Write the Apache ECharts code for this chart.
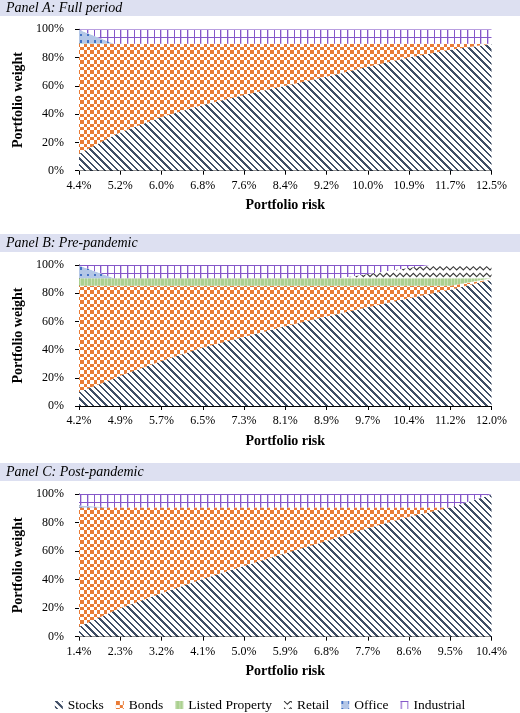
<!DOCTYPE html>
<html><head><meta charset="utf-8">
<script src="https://cdn.jsdelivr.net/npm/echarts@6/dist/echarts.min.js"></script>
<style>html,body{margin:0;padding:0;background:#fff}#c{width:520px;height:713px}</style>
</head><body><div id="c"></div>
<script>
// ---------------- data ----------------
const seriesNames = ['Stocks', 'Bonds', 'Listed Property', 'Retail', 'Office', 'Industrial'];
const panelTitles = ['Panel A: Full period', 'Panel B: Pre-pandemic', 'Panel C: Post-pandemic'];

const riskLabelsA = ['4.4%','5.2%','6.0%','6.8%','7.6%','8.4%','9.2%','10.0%','10.9%','11.7%','12.5%'];
const riskLabelsB = ['4.2%','4.9%','5.7%','6.5%','7.3%','8.1%','8.9%','9.7%','10.4%','11.2%','12.0%'];
const riskLabelsC = ['1.4%','2.3%','3.2%','4.1%','5.0%','5.9%','6.8%','7.7%','8.6%','9.5%','10.4%'];
const weightTicks = [0, 20, 40, 60, 80, 100];

// positions along the frontier (in tick-label steps) and weights (%)
const posA        = [0,    0.85, 1,    2,    3,    4,    5,    6,    7,    8,   9,    10];
const stocksA     = [12,   25,   27,   38,   46.5, 53.5, 60,   66.5, 73.5, 80,  85.5, 89.5];
const bondsA      = [77.6, 64.8, 62.8, 51.8, 43.3, 36.3, 29.8, 23.3, 16.3, 9.8, 4.3,  0.3];
const listedA     = [0.4,  0,    0,    0,    0,    0,    0,    0,    0,    0,   0,    0];
const retailA     = [0,    0,    0,    0,    0,    0,    0,    0,    0,    0,   0,    0];
const officeA     = [9.6,  0,    0,    0,    0,    0,    0,    0,    0,    0,   0,    0];
const industrialA = [0.4,  10.2, 10.2, 10.2, 10.2, 10.2, 10.2, 10.2, 10.2, 10.2, 10.2, 10.2];

const posB        = [0,    0.85, 1,    2,    3,    4,    5,    6,    6.3,  7,    8,    8.5,  9,    10];
const stocksB     = [10,   19.5, 21.5, 32,   41.5, 49,   56.5, 63.5, 65.5, 70,   76.5, 79.5, 82.5, 89.5];
const bondsB      = [75.3, 65.8, 63.8, 53.3, 43.8, 36.3, 28.8, 21.8, 19.8, 15.3, 8.8,  5.8,  2.8,  0.3];
const listedB     = [5.3,  5.3,  5.3,  5.3,  5.3,  5.3,  5.3,  5.3,  5.3,  5.3,  5.3,  5.3,  5.3,  0.8];
const retailB     = [0,    0,    0,    0,    0,    0,    0,    0,    0,    3,    7.5,  9.4,  9.4,  9.4];
const officeB     = [9,    0,    0,    0,    0,    0,    0,    0,    0,    0,    0,    0,    0,    0];
const industrialB = [0.4,  9.4,  9.4,  9.4,  9.4,  9.4,  9.4,  9.4,  9.4,  6.4,  1.9,  0,    0,    0];

const posC        = [0,    0.8,  1,    2,    3,    4,    5,    6,    7,    8,    9,    10];
const stocksC     = [7,    17.5, 20,   30.5, 40.5, 49.5, 58.5, 67,   76,   84,   90.5, 99.5];
const bondsC      = [83.5, 73,   70.5, 60,   50,   41,   32,   23.5, 14.5, 6.5,  0,    0];
const listedC     = [0,    0,    0,    0,    0,    0,    0,    0,    0,    0,    0,    0];
const retailC     = [0,    0,    0,    0,    0,    0,    0,    0,    0,    0,    0,    0];
const officeC     = [1.5,  0,    0,    0,    0,    0,    0,    0,    0,    0,    0,    0];
const industrialC = [8,    9.5,  9.5,  9.5,  9.5,  9.5,  9.5,  9.5,  9.5,  9.5,  9.5,  0.5];

// ---------------- patterns ----------------
function hex(h){ return [parseInt(h.slice(1,3),16), parseInt(h.slice(3,5),16), parseInt(h.slice(5,7),16)]; }
function pixelTile(w, h, fn){
  const c = document.createElement('canvas'); c.width = w; c.height = h;
  const ctx = c.getContext('2d'); const img = ctx.createImageData(w, h);
  for (let y = 0; y < h; y++) for (let x = 0; x < w; x++) {
    const col = fn(x, y); const i = (y*w + x)*4;
    img.data[i] = col[0]; img.data[i+1] = col[1]; img.data[i+2] = col[2]; img.data[i+3] = 255;
  }
  ctx.putImageData(img, 0, 0); return c;
}
const WHITE = [255,255,255];
const P = 20/3;
const pat = (c) => ({ image: c, repeat: 'repeat' });

const stocksPat = pat(pixelTile(20, 20, (x, y) => {
  const d = ((x - y) % 20 + 20) % 20;
  return (d % P) < 2.3 ? hex('#3f4e66') : WHITE;
}));
const bondsPat = pat(pixelTile(20, 20, (x, y) => {
  return ((Math.floor(x / (P/2)) + Math.floor(y / (P/2))) % 2 === 0) ? hex('#e97b35') : WHITE;
}));
const listedPat = pat(pixelTile(20, 4, (x, y) => {
  return (x % (P/2)) < 1 ? hex('#c9e0b6') : hex('#abd190');
}));
const retailCanvas = (function(){
  const c = document.createElement('canvas'); c.width = 20; c.height = 20;
  const ctx = c.getContext('2d'); ctx.fillStyle = '#fff'; ctx.fillRect(0,0,20,20);
  ctx.strokeStyle = '#3a3a3a'; ctx.lineWidth = 1.1;
  for (let r = -1; r <= 3; r++) {
    const base = r * P;
    ctx.beginPath();
    for (let k = -2; k <= 14; k++) {
      const x = k * (P/2), y = base + (k % 2 === 0 ? 0 : P/2);
      if (k === -2) ctx.moveTo(x, y); else ctx.lineTo(x, y);
    }
    ctx.stroke();
  }
  return c;
})();
const retailPat = pat(retailCanvas);
const officePat = pat(pixelTile(20, 20, (x, y) => {
  return ((x % P) < 2 && (y % P) < 2.6) ? hex('#4472c4') : hex('#b4c7e7');
}));
function industrialPat(off){
  return pat(pixelTile(20, 8, (x, y) => {
    const vx = (x % P);
    if (((y - off) % 8 + 8) % 8 === 0) return hex('#8557c9');
    if (vx < 1) return hex('#8557c9');
    if (vx < 1.6) return hex('#d6c6ee');
    return WHITE;
  }));
}

// ---------------- layout ----------------
const FONT = '"Liberation Serif", "Times New Roman", serif';
const grids = [
  { left: 79, width: 412.5, top: 29.3, height: 141.4 },
  { left: 79, width: 412.5, top: 265, height: 141 },
  { left: 79, width: 412.5, top: 494, height: 142.7 }
];
const bands = [ {y: 0, h: 16}, {y: 234, h: 18}, {y: 463, h: 18} ];
const panels = [
  { pos: posA, labels: riskLabelsA, data: [stocksA, bondsA, listedA, retailA, officeA, industrialA] },
  { pos: posB, labels: riskLabelsB, data: [stocksB, bondsB, listedB, retailB, officeB, industrialB] },
  { pos: posC, labels: riskLabelsC, data: [stocksC, bondsC, listedC, retailC, officeC, industrialC] }
];

const xAxes = [], yAxes = [], series = [], graphics = [];
panels.forEach((p, gi) => {
  const g = grids[gi];
  xAxes.push({
    gridIndex: gi, type: 'value', min: 0, max: 10, interval: 1,
    axisLine: { show: true, onZero: false, lineStyle: { color: '#000', width: 1 } },
    axisTick: { show: true, length: 4, lineStyle: { color: '#000' } },
    splitLine: { show: false },
    axisLabel: { formatter: (v) => p.labels[Math.round(v)], fontFamily: FONT, fontSize: 12, color: '#000', margin: 9 },
    name: 'Portfolio risk', nameLocation: 'middle', nameGap: 28,
    nameTextStyle: { fontFamily: FONT, fontWeight: 'bold', fontSize: 14, color: '#000' }
  });
  yAxes.push({
    gridIndex: gi, type: 'value', min: weightTicks[0], max: weightTicks[weightTicks.length-1], interval: 20,
    axisLine: { show: true, lineStyle: { color: '#000', width: 1 } },
    axisTick: { show: true, length: 4, lineStyle: { color: '#000' } },
    splitLine: { show: false },
    axisLabel: { formatter: '{value}%', fontFamily: FONT, fontSize: 12, color: '#000', margin: 15 },
    name: 'Portfolio weight', nameLocation: 'middle', nameGap: 45,
    nameTextStyle: { fontFamily: FONT, fontWeight: 'bold', fontSize: 14, color: '#000' }
  });
  const pats = [stocksPat, bondsPat, listedPat, retailPat, officePat, industrialPat(Math.round(g.top) % 8)];
  seriesNames.forEach((name, si) => {
    series.push({
      type: 'line', name, xAxisIndex: gi, yAxisIndex: gi, stack: 'w' + gi,
      // weight first so that the weight dimension is the stacked one
      data: p.pos.map((x, i) => [p.data[si][i], x]),
      encode: { x: 1, y: 0 },
      symbol: 'none', showSymbol: false, silent: true,
      color: pats[si],
      lineStyle: { width: 0, opacity: 0 },
      areaStyle: { color: pats[si], opacity: 1 },
      emphasis: { disabled: true }
    });
  });
  const b = bands[gi];
  graphics.push({ type: 'rect', z: -1, shape: { x: 0, y: b.y, width: 520, height: b.h }, style: { fill: '#dde0f1' } });
  graphics.push({ type: 'text', x: 6, y: b.y + b.h/2 + 0.5,
    style: { text: panelTitles[gi], font: 'italic 14px ' + FONT, fill: '#000', verticalAlign: 'middle', align: 'left' } });
});

const legendPats = [stocksPat, bondsPat, listedPat, retailPat, officePat, industrialPat(0)];
const chart = echarts.init(document.getElementById('c'), null, { renderer: 'canvas' });
chart.setOption({
  animation: false,
  backgroundColor: '#fff',
  grid: grids,
  xAxis: xAxes,
  yAxis: yAxes,
  series,
  graphic: graphics,
  legend: {
    top: 693, left: 'center', itemWidth: 8, itemHeight: 8, itemGap: 12, icon: 'rect',
    textStyle: { fontFamily: FONT, fontSize: 13.5, color: '#000' },
    itemStyle: { borderWidth: 0 },
    data: seriesNames.map((n, i) => ({ name: n, icon: 'rect', itemStyle: { color: legendPats[i], borderWidth: 0 } }))
  }
});
</script>
</body></html>
